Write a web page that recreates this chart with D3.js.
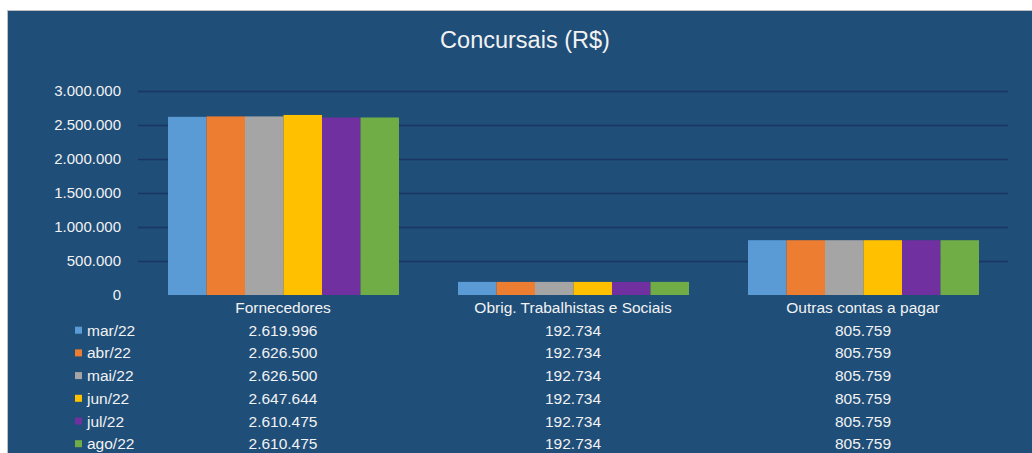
<!DOCTYPE html>
<html>
<head>
<meta charset="utf-8">
<script src="https://cdn.jsdelivr.net/npm/d3@7"></script>
<style>
  body { margin: 0; background: #fff; }
  svg { display: block; font-family: "Liberation Sans", Arial, sans-serif; }
</style>
</head>
<body>
<div id="chart"></div>
<script>
/* DATA */
const categories = ["Fornecedores", "Obrig. Trabalhistas e Sociais", "Outras contas a pagar"];
const months = ["mar/22", "abr/22", "mai/22", "jun/22", "jul/22", "ago/22"];
const fornecedores = [2619996, 2626500, 2626500, 2647644, 2610475, 2610475];
const obrigacoes = [192734, 192734, 192734, 192734, 192734, 192734];
const outras = [805759, 805759, 805759, 805759, 805759, 805759];
const yTicks = [0, 500000, 1000000, 1500000, 2000000, 2500000, 3000000];
const colors = ["#5b9bd5", "#ed7d31", "#a5a5a5", "#ffc000", "#7030a0", "#70ad47"];

const seriesByCat = [fornecedores, obrigacoes, outras];

/* CONSTANTS */
const width = 1032, height = 453;
const plot = { left: 138, right: 1008, top: 91, bottom: 295 };
const fmt = d3.formatLocale({ decimal: ",", thousands: ".", grouping: [3], currency: ["R$", ""] }).format(",.0f");

const svg = d3.select("#chart").append("svg")
  .attr("width", width)
  .attr("height", height);

// panel
svg.append("rect")
  .attr("x", 7.5).attr("y", 10.5)
  .attr("width", width).attr("height", height)
  .attr("fill", "#1f4e79")
  .attr("stroke", "#bfbfbf");

// title
svg.append("text")
  .attr("x", 525).attr("y", 48)
  .attr("text-anchor", "middle")
  .attr("fill", "#f2f2f2")
  .attr("font-size", 23.5)
  .text("Concursais (R$)");

/* SCALES */
const xScale = d3.scaleBand()
  .domain(categories)
  .range([plot.left, plot.right])
  .paddingInner(0)
  .paddingOuter(0);

const inner = d3.scaleBand()
  .domain(months)
  .range([30, xScale.bandwidth() - 29]);

const yScale = d3.scaleLinear()
  .domain([0, 3000000])
  .range([plot.bottom, plot.top]);

// gridlines
svg.append("g")
  .selectAll("line")
  .data(yTicks.filter(d => d > 0))
  .join("line")
  .attr("x1", plot.left).attr("x2", plot.right)
  .attr("y1", d => Math.round(yScale(d)) + 0.5)
  .attr("y2", d => Math.round(yScale(d)) + 0.5)
  .attr("stroke", "#193760")
  .attr("stroke-width", 1.5);

// y axis labels
const yAxis = d3.axisLeft(yScale).tickValues(yTicks).tickFormat(fmt).tickSize(0).tickPadding(0);
const gy = svg.append("g")
  .attr("transform", `translate(121,0)`)
  .call(yAxis);
gy.select(".domain").remove();
gy.selectAll("text")
  .attr("fill", "#f2f2f2")
  .attr("font-size", 15)
  .attr("font-family", "Liberation Sans, Arial, sans-serif");

// bars
const groups = svg.append("g")
  .selectAll("g")
  .data(categories.map((c, i) => ({ cat: c, values: seriesByCat[i] })))
  .join("g")
  .attr("transform", d => `translate(${xScale(d.cat)},0)`);

groups.selectAll("rect")
  .data(d => d.values.map((v, j) => ({ month: months[j], value: v, color: colors[j] })))
  .join("rect")
  .attr("x", d => inner(d.month))
  .attr("width", inner.bandwidth())
  .attr("y", d => yScale(d.value))
  .attr("height", d => yScale(0) - yScale(d.value))
  .attr("fill", d => d.color);

/* DATA TABLE */
const rowY0 = 313, rowStep = 22.7;

svg.append("g")
  .selectAll("text")
  .data(categories)
  .join("text")
  .attr("x", d => xScale(d) + xScale.bandwidth() / 2)
  .attr("y", rowY0)
  .attr("text-anchor", "middle")
  .attr("fill", "#f2f2f2")
  .attr("font-size", 15.5)
  .text(d => d);

const rows = svg.append("g")
  .selectAll("g")
  .data(months)
  .join("g")
  .attr("transform", (d, i) => `translate(0,${rowY0 + rowStep * (i + 1)})`);

rows.append("rect")
  .attr("x", 75).attr("y", -9)
  .attr("width", 7).attr("height", 7)
  .attr("fill", (d, i) => colors[i]);

rows.append("text")
  .attr("x", 87)
  .attr("fill", "#f2f2f2")
  .attr("font-size", 15.5)
  .text(d => d);

rows.each(function (m, i) {
  d3.select(this).selectAll("text.val")
    .data(categories)
    .join("text")
    .attr("class", "val")
    .attr("x", c => xScale(c) + xScale.bandwidth() / 2)
    .attr("text-anchor", "middle")
    .attr("fill", "#f2f2f2")
    .attr("font-size", 15.5)
    .text((c, k) => fmt(seriesByCat[k][i]));
});
</script>
</body>
</html>
